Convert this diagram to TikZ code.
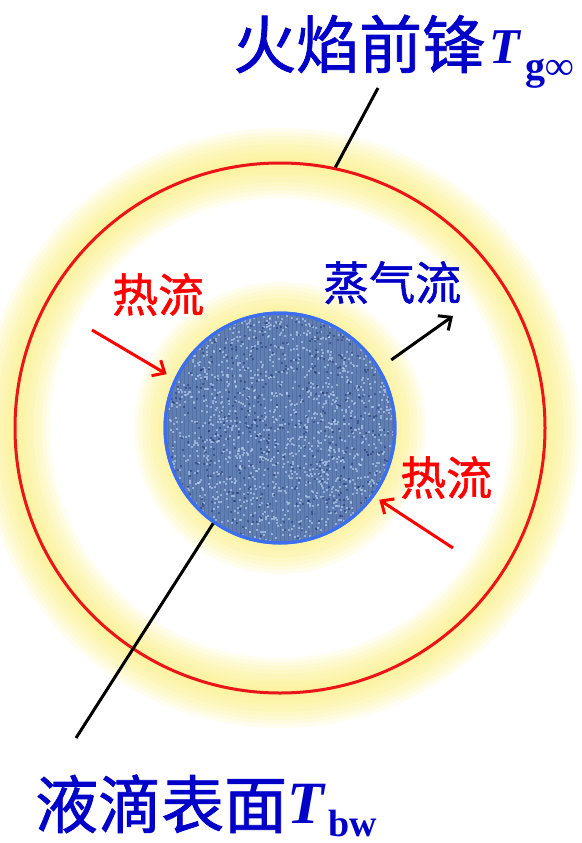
\documentclass[tikz,border=0pt]{standalone}
\usepackage{fontspec}
\newfontfamily\cjk[FakeBold=1.2]{Noto Sans CJK SC}
\newfontfamily\tnr{Liberation Serif}
\usetikzlibrary{arrows.meta}
\definecolor{flameglow}{RGB}{250,238,120}
\definecolor{frontred}{RGB}{235,20,25}
\definecolor{dropblue}{RGB}{96,126,178}
\definecolor{dropdots}{RGB}{180,205,240}
\definecolor{dropdark}{RGB}{30,50,105}
\definecolor{dropedge}{RGB}{60,110,240}
\definecolor{labelblue}{RGB}{0,0,200}
\definecolor{heatred}{RGB}{255,0,0}
\tikzset{
  front/.style={circle, draw=frontred, line width=3pt, minimum size=530pt, inner sep=0pt},
  drop/.style={circle, draw=dropedge, line width=3pt, minimum size=230pt, inner sep=0pt, fill=dropblue},
  heat/.style={heatred, line width=3pt, -{Straight Barb[length=10pt,width=18pt]}},
  vapour/.style={black, line width=3pt, -{Straight Barb[length=10pt,width=18pt]}},
  leader/.style={black, line width=3pt},
  biglabel/.style={text=labelblue, inner sep=0pt, anchor=base west, font=\cjk\fontsize{63}{63}\selectfont},
  flowlabel/.style={inner sep=0pt, anchor=base west, font=\cjk\fontsize{46}{46}\selectfont},
}
\begin{document}
\begin{tikzpicture}[x=1pt,y=-1pt]
			\useasboundingbox (0,0) rectangle (581,843);
			\coordinate (c) at (280,428);
			
			%%%%% glow %%%%%
			\foreach \w in {70,62,...,6}
				\draw[flameglow, line width=\w pt, opacity=0.13] (c) circle (265);
			\foreach \r in {146,142,...,118}
				\fill[flameglow, opacity=0.13] (c) circle (\r);
			
			%%%%% droplet and flame front %%%%%
			\node[front] (front) at (c) {};
			\node[drop] (drop) at (c) {};
			\begin{scope}
				\clip (c) circle (113);
				% woven look: dark threads and light specks
				\draw[dropdark, opacity=0.18, line width=1pt, step=4] (160,310) grid (400,550);
				\pgfmathsetseed{7}
				\foreach \i in {1,...,1600} {
					\pgfmathsetmacro\px{280+114*rand}
					\pgfmathsetmacro\py{428+114*rand}
					\fill[dropdots, opacity=0.65] (\px,\py) rectangle ++(2,2);
				}
				\foreach \i in {1,...,600} {
					\pgfmathsetmacro\px{280+114*rand}
					\pgfmathsetmacro\py{428+114*rand}
					\fill[dropdark, opacity=0.5] (\px,\py) rectangle ++(2,2);
				}
			\end{scope}
			\draw[dropedge, line width=3pt] (c) circle (115);
			
			%%%%% labels %%%%%
			\node[biglabel] (flame) at (233,68) {火焰前锋\kern4pt\raisebox{5pt}{\tnr\bfseries\itshape\fontsize{50}{50}\selectfont T}\kern6pt\raisebox{-12pt}{\tnr\bfseries\fontsize{40}{40}\selectfont g∞}};
			\node[biglabel] (surface) at (35,828) {液滴表面\raisebox{5pt}{\tnr\bfseries\itshape\fontsize{60}{60}\selectfont T}\kern5pt\raisebox{-8pt}{\tnr\bfseries\fontsize{38}{38}\selectfont bw}};
			\node[flowlabel, text=heatred] (heatL) at (112,312) {热流};
			\node[flowlabel, text=heatred] (heatR) at (400,495) {热流};
			\node[flowlabel, text=labelblue] (vap) at (323,300) {蒸气流};
			
			\coordinate (flamefoot) at (378,88);
			\coordinate (surfacefoot) at (76,738);
			\coordinate (heatLtail) at (92,330);
			\coordinate (heatRtail) at (453,548);
			\coordinate (vaptip) at (453,316);
			
			%%%%% arrows and leaders %%%%%
			\draw[leader] (flamefoot) -- (front.78.7);
			\draw[leader] (drop.235) -- (surfacefoot);
			\draw[heat, shorten >=9pt] (heatLtail) -- (drop.155);
			\draw[heat, shorten >=6pt] (heatRtail) -- (drop.324.5);
			\draw[vapour, shorten <=14pt] (drop.31) -- (vaptip);
		\end{tikzpicture}
\end{document}
